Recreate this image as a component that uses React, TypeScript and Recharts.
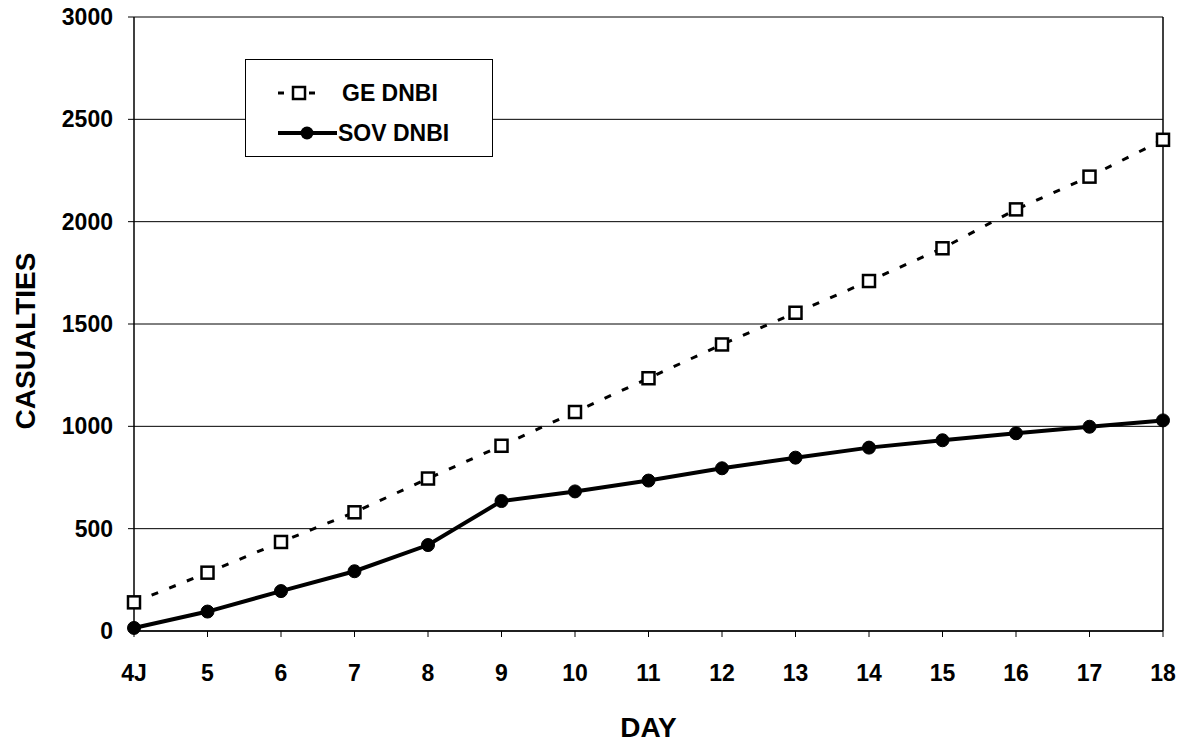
import React from 'react';
import { LineChart, Line, XAxis, YAxis, CartesianGrid, Legend, Label, ReferenceLine } from 'recharts';

const days = ['4J', '5', '6', '7', '8', '9', '10', '11', '12', '13', '14', '15', '16', '17', '18'];
const geDnbi = [140, 285, 435, 580, 745, 905, 1070, 1235, 1400, 1555, 1710, 1870, 2060, 2220, 2400];
const sovDnbi = [15, 95, 195, 292, 420, 635, 682, 735, 795, 847, 896, 932, 966, 998, 1029];
const yTicks = [0, 500, 1000, 1500, 2000, 2500, 3000];

const data = days.map((day, i) => ({ day, ge: geDnbi[i], sov: sovDnbi[i] }));

const FONT = "'Liberation Sans', Arial, sans-serif";

const SquareDot = (props: any) => {
  const { cx, cy, index } = props;
  if (cx == null || cy == null) return null;
  return <rect key={`sq-${index}`} x={cx - 6} y={cy - 6} width={12} height={12} fill="#fff" stroke="#000" strokeWidth={2.5} />;
};

const RoundDot = (props: any) => {
  const { cx, cy, index } = props;
  if (cx == null || cy == null) return null;
  return <circle key={`dot-${index}`} cx={cx} cy={cy} r={6.5} fill="#000" stroke="#000" />;
};

const YTitle = (props: any) => {
  const { viewBox } = props;
  const cx = 25;
  const cy = viewBox.y + viewBox.height / 2 + 17;
  return (
    <text x={cx} y={cy} transform={`rotate(-90 ${cx} ${cy})`} textAnchor="middle" dominantBaseline="central"
      fontFamily={FONT} fontWeight="bold" fontSize={28} fill="#000">
      CASUALTIES
    </text>
  );
};

const LegendBox = () => (
  <div style={{ width: 246, height: 96, border: '1.5px solid #000', background: '#fff', position: 'relative', fontFamily: FONT, fontWeight: 'bold', fontSize: 23, color: '#000' }}>
    <svg width={70} height={96} style={{ position: 'absolute', left: 28, top: 0 }}>
      <line x1={4} y1={33} x2={10} y2={33} stroke="#000" strokeWidth={3} />
      <rect x={19} y={27} width={12} height={12} fill="#fff" stroke="#000" strokeWidth={2.5} />
      <line x1={35} y1={33} x2={41} y2={33} stroke="#000" strokeWidth={3} />
      <line x1={4} y1={73} x2={63} y2={73} stroke="#000" strokeWidth={4} />
      <circle cx={33} cy={73} r={6.5} fill="#000" />
    </svg>
    <div style={{ position: 'absolute', left: 96, top: 19, lineHeight: '28px' }}>GE DNBI</div>
    <div style={{ position: 'absolute', left: 92, top: 59, lineHeight: '28px' }}>SOV DNBI</div>
  </div>
);

export default function App() {
  return (
    <div style={{ position: 'absolute', left: 0, top: 0, width: 1180, height: 743, background: '#fff' }}>
      <LineChart width={1180} height={743} data={data} margin={{ top: 17, right: 17, bottom: 0, left: 0 }}>
        <CartesianGrid vertical={false} stroke="#000" strokeWidth={1} />
        <XAxis
          dataKey="day"
          height={112}
          axisLine={{ stroke: '#000', strokeWidth: 1.5 }}
          tickLine={{ stroke: '#000' }}
          tickSize={6}
          tickMargin={28}
          interval={0}
          tick={{ fill: '#000', fontFamily: FONT, fontWeight: 'bold', fontSize: 23 }}
        >
          <Label value="DAY" position="insideBottom" offset={6} fill="#000" fontFamily={FONT} fontWeight="bold" fontSize={28} />
        </XAxis>
        <YAxis
          width={134}
          domain={[0, 3000]}
          ticks={yTicks}
          interval={0}
          axisLine={{ stroke: '#000', strokeWidth: 1.5 }}
          tickLine={{ stroke: '#000' }}
          tickSize={6}
          tickMargin={15}
          tick={{ fill: '#000', fontFamily: FONT, fontWeight: 'bold', fontSize: 23 }}
        >
          <Label content={<YTitle />} />
        </YAxis>
        <ReferenceLine x="18" stroke="#000" strokeWidth={1.5} />
        <Legend
          layout="horizontal"
          verticalAlign="middle"
          align="center"
          content={<LegendBox />}
          wrapperStyle={{ position: 'absolute', left: 245, top: 59, width: 248, height: 98 }}
        />
        <Line
          type="linear"
          dataKey="ge"
          name="GE DNBI"
          stroke="#000"
          strokeWidth={3}
          strokeDasharray="7 12"
          dot={<SquareDot />}
          isAnimationActive={false}
        />
        <Line
          type="linear"
          dataKey="sov"
          name="SOV DNBI"
          stroke="#000"
          strokeWidth={4}
          dot={<RoundDot />}
          isAnimationActive={false}
        />
      </LineChart>
    </div>
  );
}
